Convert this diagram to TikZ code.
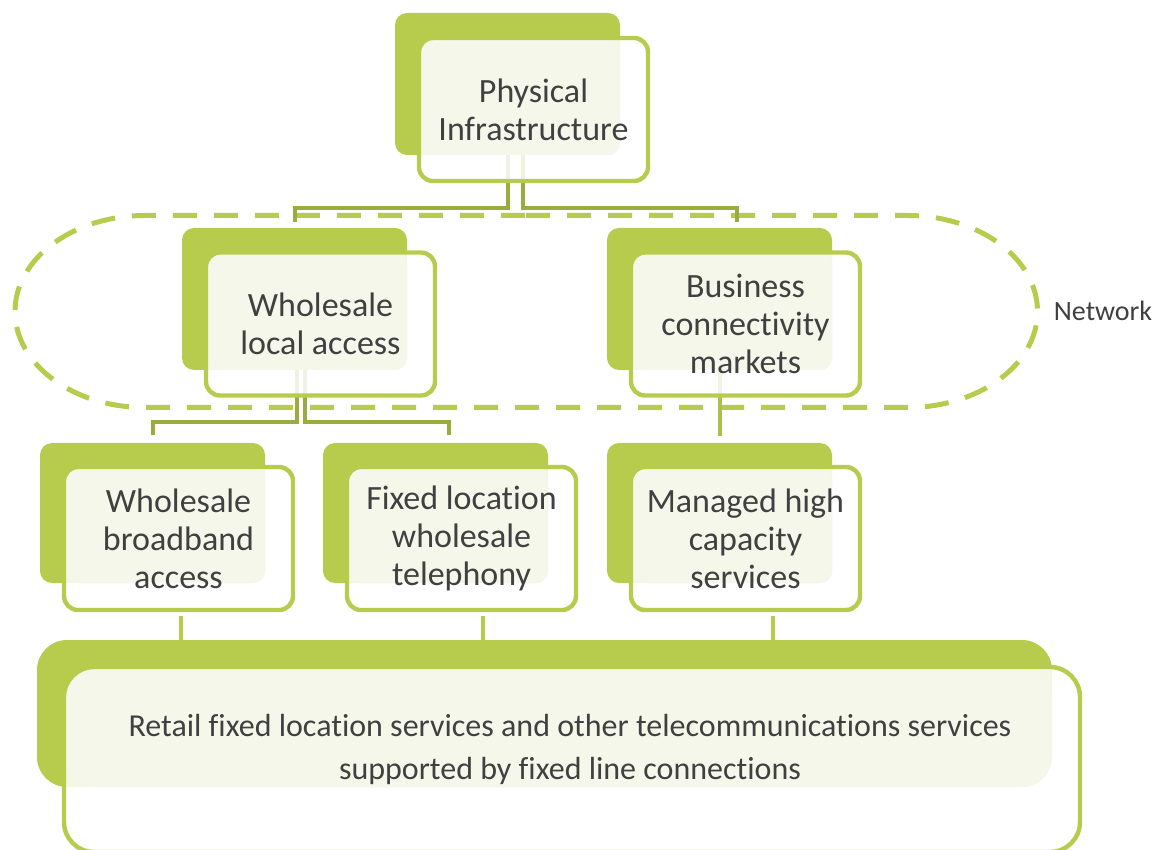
\documentclass[tikz,border=0pt]{standalone}
\usepackage{fontspec}
\setmainfont{Carlito}[Ligatures=NoCommon]
\usetikzlibrary{positioning}
\pgfdeclarelayer{backl}
\pgfdeclarelayer{filll}
\pgfsetlayers{backl,filll,main}
\definecolor{leaf}{HTML}{B7CB4D}
\definecolor{olive}{HTML}{9AAC3D}
\definecolor{sprout}{HTML}{ABC046}
\definecolor{pale}{HTML}{F5F7EB}
\definecolor{ink}{HTML}{404040}
\begin{document}
\begin{tikzpicture}[x=0.5pt,y=-0.5pt,
  front/.style={draw=leaf, line width=2.2pt, rounded corners=7pt, outer sep=0pt, inner sep=0pt,
    minimum width=114.5pt, minimum height=71.5pt, align=center, text=ink,
    font=\fontsize{17}{19}\selectfont},
  back/.style={fill=leaf, rounded corners=6pt, outer sep=0pt, inner sep=0pt,
    minimum width=112.5pt, minimum height=71pt},
  hier/.style={draw=olive, line width=2pt},
  feed/.style={draw=leaf, line width=2pt},
  network/.style={draw=leaf, line width=2.5pt, dash pattern=on 12pt off 8.5pt}]
\clip (0,0) rectangle (1158,850);
\node[front] (phys) at (533.5,109.5) {Physical\\Infrastructure};
\node[front] (wla) at (320.5,324) {Wholesale\\local access};
\node[front] (bcm) at (745.5,324) {Business\\connectivity\\markets};
\node[front] (wba) at (178.5,538.5) {Wholesale\\broadband\\access};
\node[front] (flwt) at (461.5,538.5) {Fixed location\\wholesale\\telephony};
\node[front] (mhcs) at (745.5,538.5) {Managed high\\capacity\\services};
\node[front, rounded corners=15pt, minimum width=508pt, minimum height=92.5pt] (retail) at (572,759.5) {};
\node[text=ink, align=center, font=\fontsize{16}{21.5}\selectfont] (rtxt) at (570,749)
  {Retail fixed location services and other telecommunications services\\supported by fixed line connections};
\node[text=ink, font=\fontsize{14}{16}\selectfont] (net) at (1103,311) {Network};
\begin{pgfonlayer}{backl}
\node[back] (phys-b) at (507.5,84) {};
\node[back] (wla-b) at (294.5,299) {};
\node[back] (bcm-b) at (719.5,299) {};
\node[back, minimum height=70pt] (wba-b) at (152.5,513) {};
\node[back, minimum height=70pt] (flwt-b) at (435.5,513) {};
\node[back, minimum height=70pt] (mhcs-b) at (719.5,513) {};
\node[back, rounded corners=15pt, minimum width=507.5pt, minimum height=73.5pt] (retail-b) at (544.5,713.5) {};
\draw[network] (526,215.5) -- (907.5,215.5)
  arc[start angle=90, end angle=-90, x radius=65pt, y radius=48pt] -- (145,407.5)
  arc[start angle=270, end angle=90, x radius=65pt, y radius=48pt] -- cycle;
\coordinate (topbus) at (0,208);
\coordinate (midbus) at (0,422);
\draw[hier, shorten >=3pt] (phys-b.south) -- (phys-b.south |- topbus) -| (wla-b.north);
\draw[hier, shorten >=3pt] ([xshift=7.5pt]phys-b.south) -- ([xshift=7.5pt]phys-b.south |- topbus) -| ([xshift=8.75pt]bcm-b.north);
\draw[hier, shorten >=4pt] ([xshift=1pt]wla-b.south) -- ([xshift=1pt]wla-b.south |- midbus) -| (wba-b.north);
\draw[hier, shorten >=4pt] ([xshift=5pt]wla-b.south) -- ([xshift=5pt]wla-b.south |- midbus) -| ([xshift=6.5pt]flwt-b.north);
\draw[draw=sprout, line width=2pt, shorten >=3.5pt] (bcm-b.south) -- (mhcs-b.north);
\end{pgfonlayer}
\begin{pgfonlayer}{filll}
\foreach \u in {phys,wla,bcm,wba,flwt,mhcs}{
  \fill[white, opacity=.85, rounded corners=7pt] (\u.north west) rectangle (\u.south east);
  \fill[pale, rounded corners=6pt] ([shift={(2.2,2.2)}]\u.north west) rectangle (\u-b.south east);
}
\fill[white, opacity=.85, rounded corners=15pt] (retail.north west) rectangle (retail.south east);
\fill[pale, rounded corners=15pt] ([shift={(2.2,2.2)}]retail.north west) rectangle (retail-b.south east);
\end{pgfonlayer}
\draw[feed, shorten <=3pt] ([xshift=1.25pt]wba.south) -- ([xshift=1.25pt]wba.south |- retail-b.north);
\draw[feed, shorten <=3pt] ([xshift=10.75pt]flwt.south) -- ([xshift=10.75pt]flwt.south |- retail-b.north);
\draw[feed, shorten <=3pt] ([xshift=13.75pt]mhcs.south) -- ([xshift=13.75pt]mhcs.south |- retail-b.north);
\end{tikzpicture}
\end{document}
